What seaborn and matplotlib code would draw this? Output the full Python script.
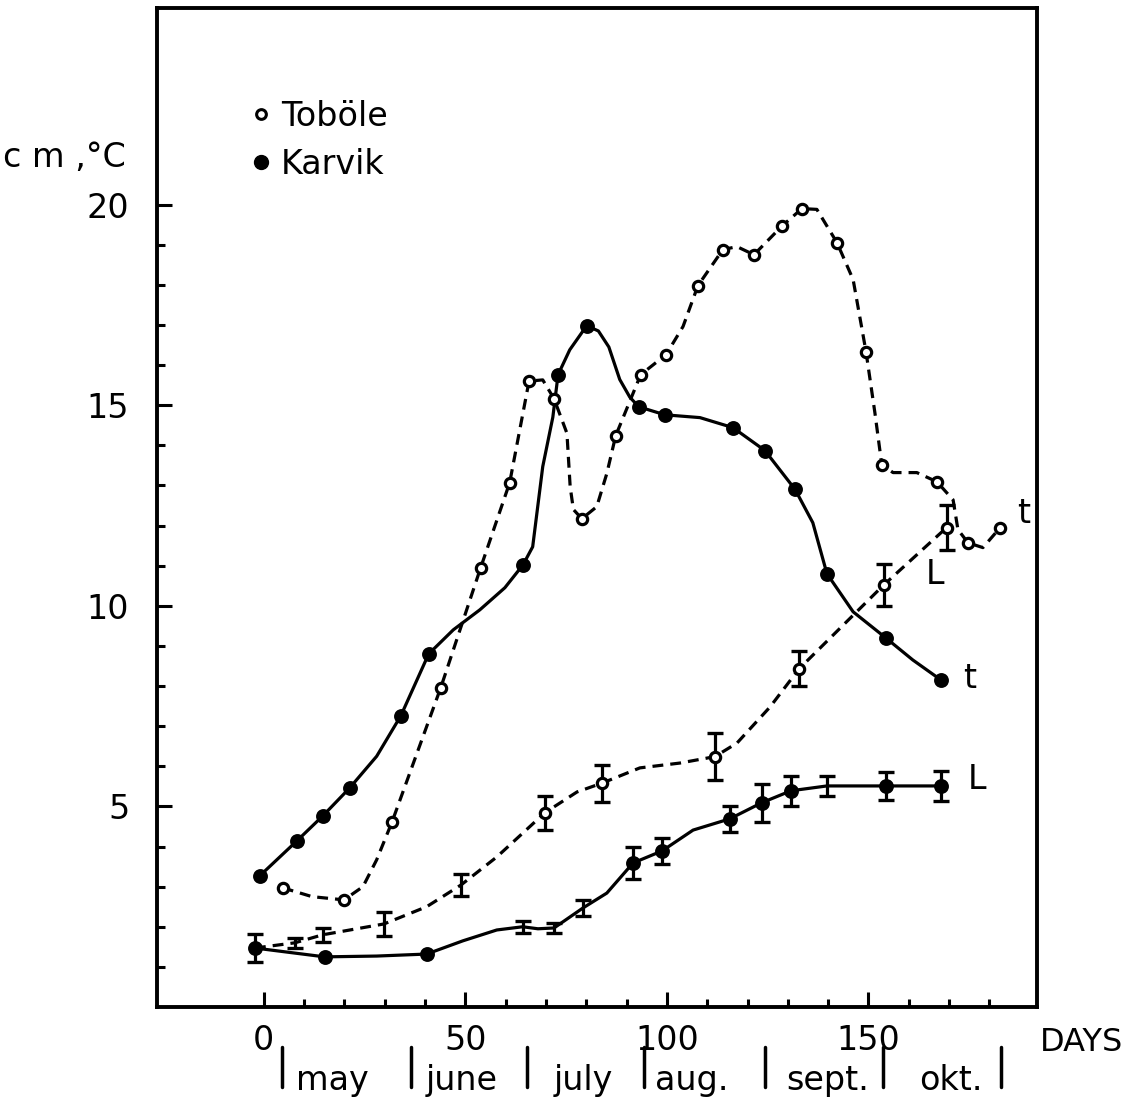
import matplotlib
matplotlib.use('Agg')  # no display
import numpy as np
import matplotlib.pyplot as plt
import matplotlib.transforms as mtransforms
from matplotlib.lines import Line2D
import seaborn as sns

# Toböle, water temperature (t) - open circles
tob_t_day = [4.7, 19.9, 31.8, 43.9, 53.8, 61.0, 65.8, 72.0, 78.9, 87.3, 93.5, 99.8,
             107.7, 113.9, 121.6, 128.5, 133.5, 142.2, 149.4, 153.3, 167.0, 174.7, 182.6]
tob_t_val = [2.97, 2.67, 4.61, 7.96, 10.95, 13.07, 15.6, 15.16, 12.17, 14.24, 15.76, 16.26,
             17.98, 18.88, 18.75, 19.46, 19.9, 19.05, 16.33, 13.52, 13.09, 11.57, 11.94]
tob_t_bend_day = [12.0, 24.6, 28.0, 69.2, 75.2, 76.0, 76.8, 82.6, 85.1, 104.0, 117.4,
                  137.2, 146.2, 151.6, 156.1, 162.0, 171.0, 172.2, 178.4]
tob_t_bend_val = [2.75, 3.0, 3.67, 15.63, 14.3, 12.97, 12.4, 12.47, 13.3, 16.96, 18.95,
                  19.88, 18.13, 14.81, 13.32, 13.32, 12.64, 11.9, 11.45]

# Karvik, water temperature (t) - filled circles
kar_t_day = [-1.0, 8.2, 14.6, 21.3, 34.0, 40.9, 64.3, 73.0, 80.1, 93.0, 99.5,
             116.4, 124.3, 131.8, 139.7, 154.3, 168.0]
kar_t_val = [3.27, 4.14, 4.76, 5.46, 7.26, 8.8, 11.02, 15.76, 16.98, 14.96, 14.76,
             14.44, 13.87, 12.9, 10.8, 9.2, 8.15]
kar_t_bend_day = [28.0, 47.0, 53.6, 59.8, 66.7, 69.2, 71.7, 75.9, 83.0, 85.6, 88.3, 90.8,
                  108.2, 136.2, 146.2, 161.0]
kar_t_bend_val = [6.25, 9.4, 9.9, 10.45, 11.47, 13.47, 14.7, 16.38, 16.85, 16.45, 15.64, 15.2,
                  14.69, 12.07, 9.85, 8.65]

# Toböle, length (L) with error bars
tob_l_day = [-2.2, 7.7, 14.6, 29.8, 48.9, 69.7, 83.9, 111.9, 132.8, 153.8, 169.4]
tob_l_val = [1.47, 1.6, 1.8, 2.07, 3.04, 4.84, 5.58, 6.24, 8.43, 10.52, 11.95]
tob_l_err = [0.0, 0.13, 0.17, 0.29, 0.28, 0.42, 0.46, 0.59, 0.44, 0.52, 0.56]
tob_l_bend_day = [40.4, 57.8, 64.3, 77.7, 93.3, 103.2, 117.4, 125.6]
tob_l_bend_val = [2.5, 3.74, 4.34, 5.36, 5.96, 6.08, 6.58, 7.48]

# Karvik, length (L) with error bars
kar_l_day = [-2.2, 15.1, 40.4, 64.2, 72.0, 79.2, 91.6, 98.8, 115.6, 123.5, 130.8,
             139.7, 154.3, 168.0]
kar_l_val = [1.47, 1.25, 1.32, 2.0, 1.97, 2.47, 3.59, 3.89, 4.69, 5.09, 5.39,
             5.51, 5.51, 5.51]
kar_l_err = [0.36, 0.0, 0.0, 0.15, 0.13, 0.2, 0.41, 0.33, 0.32, 0.47, 0.37,
             0.26, 0.35, 0.38]
kar_l_bend_day = [28.0, 49.4, 57.8, 68.0, 85.1, 106.5]
kar_l_bend_val = [1.27, 1.65, 1.92, 1.95, 2.84, 4.41]

# month strip under the day axis
month_names = ['may', 'june', 'july', 'aug.', 'sept.', 'okt.']
month_name_day = [17.1, 49.1, 79.2, 106.2, 140.0, 170.5]
month_bounds = [4.5, 36.5, 65.3, 94.3, 124.3, 153.5, 182.9]


def curve(day, val, bday, bval):
    d = sorted(zip(list(day) + list(bday), list(val) + list(bval)))
    return [p[0] for p in d], [p[1] for p in d]


sns.set_style('ticks')
plt.rcParams['font.family'] = ['DejaVu Sans']
plt.rcParams['font.size'] = 24
for k in ['text.color', 'axes.edgecolor', 'axes.labelcolor', 'xtick.color', 'ytick.color']:
    plt.rcParams[k] = 'black'

fig = plt.figure(figsize=(11.36, 11.06), dpi=100)
ax = fig.add_axes([0.1382, 0.0895, 0.7746, 0.9033])

dash = (0, (3.4, 2.2))
lw = 2.3

# curves
x, y = curve(tob_t_day, tob_t_val, tob_t_bend_day, tob_t_bend_val)
sns.lineplot(x=x, y=y, sort=False, estimator=None, color='black', lw=lw, ax=ax)
ax.lines[-1].set_linestyle(dash)
x, y = curve(tob_l_day, tob_l_val, tob_l_bend_day, tob_l_bend_val)
sns.lineplot(x=x, y=y, sort=False, estimator=None, color='black', lw=lw, ax=ax)
ax.lines[-1].set_linestyle(dash)
x, y = curve(kar_t_day, kar_t_val, kar_t_bend_day, kar_t_bend_val)
sns.lineplot(x=x, y=y, sort=False, estimator=None, color='black', lw=lw, ax=ax)
x, y = curve(kar_l_day, kar_l_val, kar_l_bend_day, kar_l_bend_val)
sns.lineplot(x=x, y=y, sort=False, estimator=None, color='black', lw=lw, ax=ax)
for ln in ax.lines:
    ln.set_solid_joinstyle('round')
    ln.set_dash_joinstyle('round')

# error bars (only where a bar is drawn)
for d, v, e in [(tob_l_day, tob_l_val, tob_l_err), (kar_l_day, kar_l_val, kar_l_err)]:
    d, v, e = np.array(d), np.array(v), np.array(e)
    m = e > 0
    ax.errorbar(d[m], v[m], yerr=e[m], fmt='none', ecolor='black', elinewidth=2.3,
                capsize=5.5, capthick=2.4, zorder=3)

# markers
open_kw = dict(color='white', edgecolor='black', linewidth=2.3, s=55, zorder=4)
full_kw = dict(color='black', edgecolor='black', linewidth=0, s=115, zorder=5)
sns.scatterplot(x=tob_t_day, y=tob_t_val, ax=ax, **open_kw)
sns.scatterplot(x=tob_l_day[5:], y=tob_l_val[5:], ax=ax, **open_kw)
sns.scatterplot(x=kar_t_day, y=kar_t_val, ax=ax, **full_kw)
keep = [0, 1, 2, 6, 7, 8, 9, 10, 12, 13]
sns.scatterplot(x=[kar_l_day[i] for i in keep], y=[kar_l_val[i] for i in keep], ax=ax, **full_kw)

# curve labels
ax.text(188.5, 12.3, 't', ha='center', va='center')
ax.text(166.5, 10.77, 'L', ha='center', va='center')
ax.text(175.2, 8.18, 't', ha='center', va='center')
ax.text(176.9, 5.66, 'L', ha='center', va='center')

# axes
ax.set_xlim(-26.5, 191.8)
ax.set_ylim(0, 24.9)
ax.set_xticks([0, 50, 100, 150])
ax.set_xticks(np.arange(0, 181, 10), minor=True)
ax.set_yticks([5, 10, 15, 20])
ax.set_yticks(np.arange(1, 21, 1), minor=True)
ax.tick_params(which='both', direction='in', width=2.2, labelsize=24)
ax.tick_params(which='major', length=11)
ax.tick_params(which='minor', length=6)
ax.tick_params(axis='x', pad=12)
ax.tick_params(axis='y', pad=20)
for s in ax.spines.values():
    s.set_linewidth(2.8)
ax.set_xlabel('')
ax.set_ylabel('')

# legend
handles = [Line2D([], [], ls='none', marker='o', ms=7, mfc='white', mec='black', mew=2.2, label='Toböle'),
           Line2D([], [], ls='none', marker='o', ms=10, mfc='black', mec='black', label='Karvik')]
ax.legend(handles=handles, loc='upper left', bbox_to_anchor=(0.088, 0.925), frameon=False,
          handlelength=0.6, handletextpad=0.3, labelspacing=0.45, fontsize=24, borderpad=0)

# axis titles
fig.text(0.003, 0.858, 'c m ,°C', ha='left', va='center', fontsize=24)
ax.text(1.0 + 3 / 880, -0.036, 'DAYS', transform=ax.transAxes, ha='left', va='center', fontsize=23)

# month strip
trans = mtransforms.blended_transform_factory(ax.transData, ax.transAxes)
for b in month_bounds:
    ax.plot([b, b], [-0.040, -0.080], transform=trans, color='black', lw=2.5, clip_on=False)
for name, d in zip(month_names, month_name_day):
    ax.text(d, -0.083, name, transform=trans, ha='center', va='baseline', fontsize=24)

fig.savefig('out.png', dpi=100)
plt.close(fig)
